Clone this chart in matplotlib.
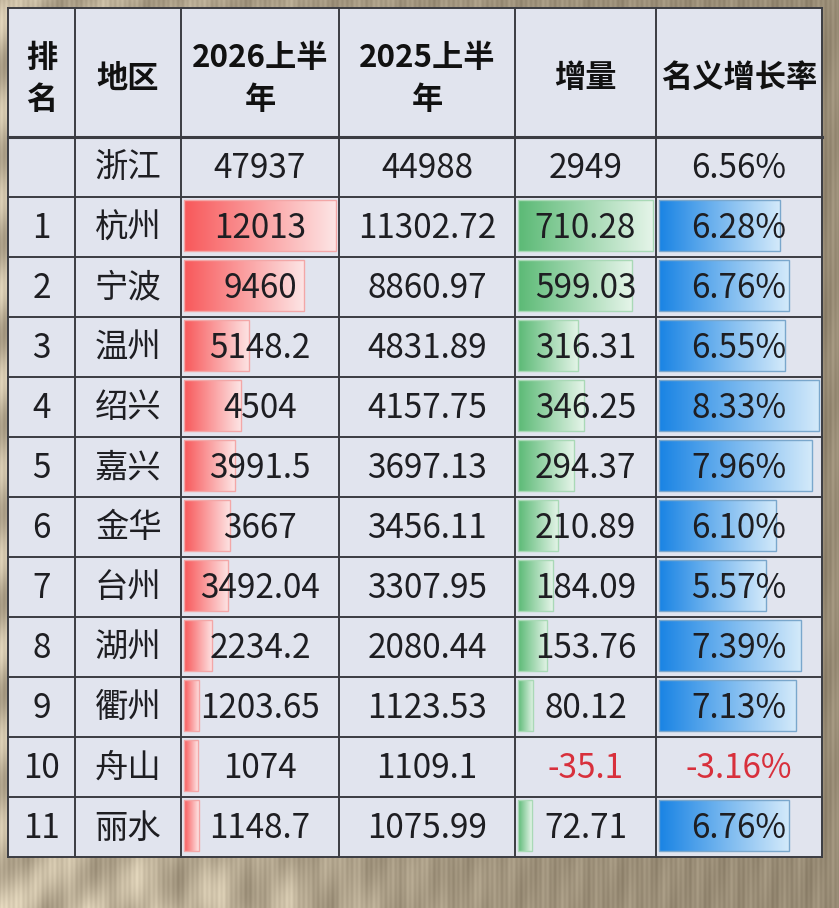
import numpy as np
import matplotlib
matplotlib.use('Agg')
import matplotlib.pyplot as plt
from matplotlib.patches import Rectangle

plt.rcParams['font.family'] = ['Noto Sans CJK SC', 'DejaVu Sans']

# table data
headers = ['排\n名', '地区', '2026上半\n年', '2025上半\n年', '增量', '名义增长率']
ranks = ['', '1', '2', '3', '4', '5', '6', '7', '8', '9', '10', '11']
regions = ['浙江', '杭州', '宁波', '温州', '绍兴', '嘉兴', '金华', '台州', '湖州', '衢州', '舟山', '丽水']
gdp_2026 = [47937, 12013, 9460, 5148.2, 4504, 3991.5, 3667, 3492.04, 2234.2, 1203.65, 1074, 1148.7]
gdp_2025 = [44988, 11302.72, 8860.97, 4831.89, 4157.75, 3697.13, 3456.11, 3307.95, 2080.44, 1123.53, 1109.1, 1075.99]
increase = [2949, 710.28, 599.03, 316.31, 346.25, 294.37, 210.89, 184.09, 153.76, 80.12, -35.1, 72.71]
growth = [6.56, 6.28, 6.76, 6.55, 8.33, 7.96, 6.10, 5.57, 7.39, 7.13, -3.16, 6.76]

W, H = 839, 908
col_edges = [8, 75, 181, 339, 515, 656, 822]
header_top, header_bot = 8, 137
row_h = 60

fig = plt.figure(figsize=(W / 100, H / 100), dpi=100)
ax = fig.add_axes([0, 0, 1, 1])
ax.set_xlim(0, W)
ax.set_ylim(H, 0)
ax.axis('off')

# wooden / beige backdrop
yy, xx = np.mgrid[0:H, 0:W].astype(float)
base = np.array([0.65, 0.60, 0.51])
light = np.exp(-xx / 260.0) * (0.5 + 0.5 * np.sin((xx + yy) * 0.07)) * 0.18
light += np.exp(-((yy - 908) ** 2) / 3000.0) * np.exp(-((xx - 200) ** 2) / 40000.0) * \
    (0.5 + 0.5 * np.sin((xx - yy * 0.3) * 0.09)) * 0.15
grain = 0.025 * np.sin(xx * 1.3) + 0.02 * np.sin(xx * 0.37 + 1.0) + 0.015 * np.sin(yy * 0.05 + xx * 0.2)
shade = -0.06 * (xx / W)
bg = np.clip(base[None, None, :] + (light + grain + shade)[:, :, None] * np.array([1.0, 1.0, 0.95]), 0, 1)
ax.imshow(bg, extent=[0, W, H, 0], zorder=0, aspect='auto')

cell_bg = '#e1e4ee'
line_c = '#3b3c42'
text_c = '#1e1e22'
neg_c = '#d8303c'

n_rows = len(regions)
row_tops = [header_bot + i * row_h for i in range(n_rows)]
table_bot = row_tops[-1] + row_h

ax.add_patch(Rectangle((col_edges[0], header_top), col_edges[-1] - col_edges[0],
                       table_bot - header_top, facecolor=cell_bg, edgecolor='none', zorder=1))


def data_bar(ax, x0, width, top, value, vmax, c_dark, c_light, c_edge):
    if value <= 0:
        return
    length = (width - 6) * value / vmax
    grad = np.linspace(0, 1, 64)[None, :, None]
    a = np.array(matplotlib.colors.to_rgb(c_dark))
    b = np.array(matplotlib.colors.to_rgb(c_light))
    img = a * (1 - grad) + b * grad
    ax.imshow(img, extent=[x0 + 3, x0 + 3 + length, top + 54, top + 3],
              aspect='auto', zorder=2, interpolation='bilinear')
    ax.add_patch(Rectangle((x0 + 3, top + 3), length, 51, facecolor='none',
                           edgecolor=c_edge, linewidth=1.0, zorder=2.5))


city = slice(1, None)
max_2026 = max(gdp_2026[city])
max_inc = max(increase[city])
max_gr = max(growth[city])

for i in range(n_rows):
    top = row_tops[i]
    cy = top + row_h / 2
    if i > 0:
        data_bar(ax, col_edges[2], col_edges[3] - col_edges[2], top, gdp_2026[i], max_2026,
                 '#f8595b', '#fde4e4', '#f3a7a7')
        data_bar(ax, col_edges[4], col_edges[5] - col_edges[4], top, increase[i], max_inc,
                 '#5cba76', '#e4f4e8', '#a9d9b6')
        data_bar(ax, col_edges[5], col_edges[6] - col_edges[5], top, growth[i], max_gr,
                 '#1a84e4', '#d2e9fa', '#7aa7cc')
    vals = [ranks[i], regions[i], str(gdp_2026[i]), str(gdp_2025[i]),
            str(increase[i]), f'{growth[i]:.2f}%']
    for j, v in enumerate(vals):
        cx = (col_edges[j] + col_edges[j + 1]) / 2
        color = text_c
        if (j == 4 and increase[i] < 0) or (j == 5 and growth[i] < 0):
            color = neg_c
        ax.text(cx, cy + 1, v, ha='center', va='center', fontsize=24,
                color=color, zorder=3)

for j, h in enumerate(headers):
    cx = (col_edges[j] + col_edges[j + 1]) / 2
    ax.text(cx, (header_top + header_bot) / 2 + 6, h, ha='center', va='center',
            fontsize=22.5, fontweight='bold', color='#111111', linespacing=1.4, zorder=3)

# grid lines
for x in col_edges:
    ax.plot([x, x], [header_top, table_bot], color=line_c, linewidth=1.4, zorder=4)
for y in [header_top, header_bot] + row_tops[1:] + [table_bot]:
    lw = 2.2 if y == header_bot else 1.4
    ax.plot([col_edges[0], col_edges[-1]], [y, y], color=line_c, linewidth=lw, zorder=4)

fig.savefig('out.png', dpi=100)
